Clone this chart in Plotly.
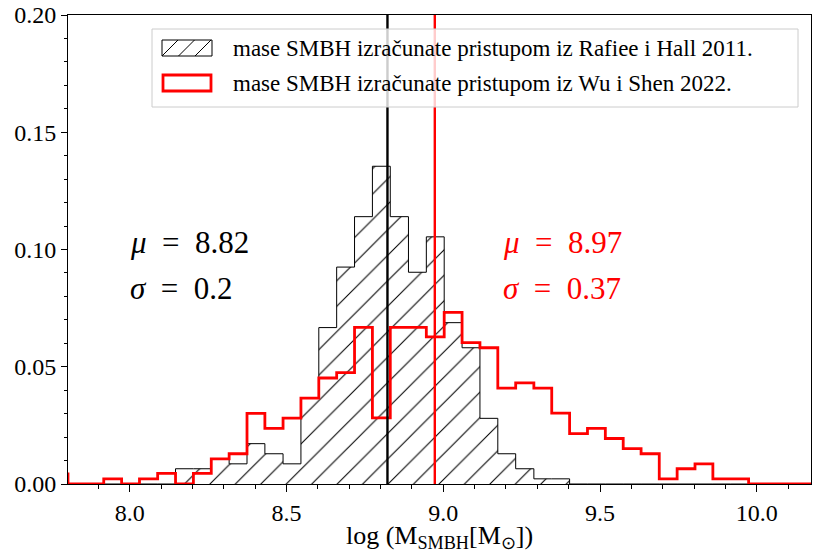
import plotly.graph_objects as go

# ---------------- data ----------------
bin_edges = [7.746, 7.803, 7.860, 7.917, 7.974, 8.031, 8.089, 8.146, 8.203, 8.260,
             8.317, 8.374, 8.431, 8.489, 8.546, 8.603, 8.660, 8.717, 8.774, 8.831,
             8.889, 8.946, 9.003, 9.060, 9.117, 9.174, 9.231, 9.289, 9.346, 9.403,
             9.460, 9.517, 9.574, 9.631, 9.689, 9.746, 9.803, 9.860, 9.917, 9.974,
             10.031, 10.089, 10.146, 10.203]

rafiee_hall_2011 = [0, 0, 0, 0, 0, 0, 0,
                    0.0065, 0.0065, 0.0108, 0.0086, 0.0172, 0.0129, 0.0086, 0.0366,
                    0.0667, 0.0925, 0.1140, 0.1355, 0.1140, 0.0903, 0.1054, 0.0688,
                    0.0581, 0.0280, 0.0129, 0.0065, 0.0022, 0.0022,
                    0, 0, 0, 0, 0, 0, 0, 0, 0, 0, 0, 0, 0, 0]

wu_shen_2022 = [0.0043, 0, 0, 0.0022, 0, 0.0022, 0.0045, 0, 0.0045, 0.0107,
                0.0129, 0.0301, 0.0237, 0.0281, 0.0366, 0.0452, 0.0475, 0.0668,
                0.0282, 0.0668, 0.0668, 0.0627, 0.0732, 0.0603, 0.0581, 0.0409,
                0.0431, 0.0409, 0.0302, 0.0215, 0.0237, 0.0194, 0.0151, 0.0129,
                0.0022, 0.0065, 0.0086, 0.0022, 0.0022, 0, 0, 0, 0]

mean_rafiee, sigma_rafiee = 8.822, 0.2
mean_wu, sigma_wu = 8.973, 0.37
mean_rafiee_label, sigma_rafiee_label = "8.82", "0.2"
mean_wu_label, sigma_wu_label = "8.97", "0.37"

legend_labels = ["mase SMBH izračunate pristupom iz Rafiee i Hall 2011.",
                 "mase SMBH izračunate pristupom iz Wu i Shen 2022."]

x_range = [7.803, 10.173]
y_range = [0, 0.20]

FONT = "Liberation Serif"
SP = "\u2002"  # wider spacing around "=" like LaTeX math


def step_xy(edges, heights):
    xs = [edges[0]] + list(edges)
    ys = [0] + list(heights) + [0]
    return xs, ys


fig = go.Figure()

bx, by = step_xy(bin_edges, rafiee_hall_2011)
fig.add_trace(go.Scatter(
    x=bx, y=by, mode="lines", line=dict(shape="hv", color="black", width=1),
    fill="tozeroy", fillcolor="white",
    fillpattern=dict(shape="/", size=18, solidity=0.06, fgcolor="black",
                     bgcolor="white", fgopacity=1),
    showlegend=False, hoverinfo="skip"))

rx, ry = step_xy(bin_edges, wu_shen_2022)
fig.add_trace(go.Scatter(
    x=rx, y=ry, mode="lines", line=dict(shape="hv", color="#ff0000", width=2.8),
    showlegend=False, hoverinfo="skip"))

shapes = []
# mean lines
shapes.append(dict(type="line", xref="x", yref="paper", x0=mean_rafiee, x1=mean_rafiee,
                   y0=0, y1=1, line=dict(color="black", width=2.4)))
shapes.append(dict(type="line", xref="x", yref="paper", x0=mean_wu, x1=mean_wu,
                   y0=0, y1=1, line=dict(color="#ff0000", width=2.4)))

# manual legend (pixel -> paper helpers)
PL, PR, PT, PB = 68, 811, 15, 484


def px(xp):
    return (xp - PL) / (PR - PL)


def py(yp):
    return (PB - yp) / (PB - PT)


shapes.append(dict(type="rect", xref="paper", yref="paper",
                   x0=px(152), x1=px(798), y0=py(107), y1=py(29),
                   fillcolor="rgba(255,255,255,0.8)",
                   line=dict(color="rgba(204,204,204,1)", width=1)))
# hatched patch
shapes.append(dict(type="rect", xref="paper", yref="paper",
                   x0=px(162), x1=px(212), y0=py(56), y1=py(40),
                   fillcolor="white", line=dict(color="black", width=1)))
for xb in [162, 178.5, 195]:
    x_top = min(xb + 16, 212)
    y_top = 56 - (x_top - xb)
    shapes.append(dict(type="line", xref="paper", yref="paper",
                       x0=px(xb), x1=px(x_top), y0=py(56), y1=py(y_top),
                       line=dict(color="black", width=1)))
# red patch
shapes.append(dict(type="rect", xref="paper", yref="paper",
                   x0=px(163), x1=px(211), y0=py(91), y1=py(75),
                   fillcolor="white", line=dict(color="#ff0000", width=2.8)))

annotations = [
    dict(xref="paper", yref="paper", x=px(231), y=py(48.5), xanchor="left", yanchor="middle",
         text=legend_labels[0], showarrow=False, font=dict(family=FONT, size=23, color="black")),
    dict(xref="paper", yref="paper", x=px(231), y=py(83.5), xanchor="left", yanchor="middle",
         text=legend_labels[1], showarrow=False, font=dict(family=FONT, size=23, color="black")),
    dict(xref="paper", yref="paper", x=px(128), y=py(242), xanchor="left", yanchor="middle",
         text="<i>μ</i>" + SP + "=" + SP + mean_rafiee_label, showarrow=False,
         font=dict(family=FONT, size=31, color="black")),
    dict(xref="paper", yref="paper", x=px(128), y=py(288), xanchor="left", yanchor="middle",
         text="<i>σ</i>" + SP + "=" + SP + sigma_rafiee_label, showarrow=False,
         font=dict(family=FONT, size=31, color="black")),
    dict(xref="paper", yref="paper", x=px(501), y=py(242), xanchor="left", yanchor="middle",
         text="<i>μ</i>" + SP + "=" + SP + mean_wu_label, showarrow=False,
         font=dict(family=FONT, size=31, color="#ff0000")),
    dict(xref="paper", yref="paper", x=px(501), y=py(288), xanchor="left", yanchor="middle",
         text="<i>σ</i>" + SP + "=" + SP + sigma_wu_label, showarrow=False,
         font=dict(family=FONT, size=31, color="#ff0000")),
]

fig.update_layout(
    width=813, height=553,
    margin=dict(l=PL, r=813 - PR, t=PT, b=553 - PB, autoexpand=False),
    paper_bgcolor="white", plot_bgcolor="white",
    font=dict(family=FONT, size=24, color="black"),
    shapes=shapes, annotations=annotations, showlegend=False,
    xaxis=dict(range=x_range, tick0=8.0, dtick=0.5, tickformat=".1f",
               automargin=False,
               ticks="outside", ticklen=7, tickwidth=1, tickcolor="black",
               showline=True, linecolor="black", linewidth=1, mirror=True,
               showgrid=False, zeroline=False,
               minor=dict(tick0=8.0, dtick=0.1, ticks="outside", ticklen=4,
                          tickcolor="black", showgrid=False),
               tickfont=dict(family=FONT, size=24),
               title=dict(text="log (M<sub>SMBH</sub>[M<sub>⊙</sub>])",
                          font=dict(family=FONT, size=26), standoff=2)),
    yaxis=dict(range=y_range, tick0=0, dtick=0.05, tickformat=".2f",
               automargin=False,
               ticks="outside", ticklen=6, tickwidth=1, tickcolor="black",
               showline=True, linecolor="black", linewidth=1, mirror=True,
               showgrid=False, zeroline=False,
               minor=dict(dtick=0.01, ticks="outside", ticklen=3,
                          tickcolor="black", showgrid=False),
               tickfont=dict(family=FONT, size=24)),
)

fig.write_html("out.html",
               config={"displayModeBar": False},
               post_script="document.body.style.margin='0px';"
                           "document.body.style.overflow='hidden';")
